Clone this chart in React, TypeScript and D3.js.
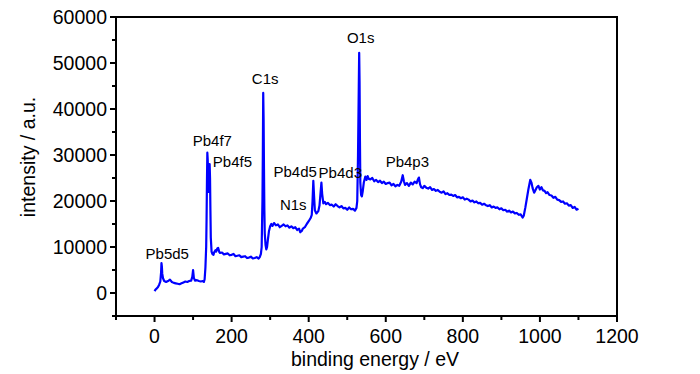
import React from "react";
import * as d3 from "d3";

// binding energy (eV) and intensity (a.u.)
const energy: number[] = [
  0, 3, 6, 9, 12, 15, 17, 18, 19, 20,
  22, 25, 30, 35, 40, 45, 50, 55, 60, 65,
  70, 75, 80, 85, 90, 95, 98, 100, 102, 105,
  110, 115, 120, 125, 128, 130, 132, 134, 135, 136,
  137, 138, 139, 140, 141, 142, 143, 144, 145, 146,
  148, 150, 153, 155, 158, 160, 163, 165, 168, 170,
  175, 180, 185, 190, 195, 200, 205, 210, 215, 220,
  225, 230, 235, 240, 245, 250, 255, 260, 265, 270,
  273, 276, 278, 280, 281, 282, 283, 284, 285, 286,
  288, 290, 292, 294, 297, 300, 303, 306, 310, 315,
  320, 325, 330, 335, 340, 345, 350, 355, 360, 365,
  370, 375, 378, 382, 385, 390, 395, 400, 405, 408,
  410, 412, 414, 416, 420, 425, 428, 431, 433, 435,
  438, 442, 445, 450, 455, 460, 465, 470, 475, 480,
  485, 490, 495, 500, 505, 510, 515, 520, 524, 526,
  528, 530, 531, 532, 533, 534, 536, 538, 540, 543,
  547, 550, 553, 556, 560, 565, 570, 575, 580, 585,
  590, 595, 600, 605, 610, 615, 620, 625, 630, 635,
  640, 644, 647, 650, 655, 660, 665, 670, 675, 680,
  683, 686, 689, 692, 696, 700, 705, 710, 715, 720,
  725, 730, 735, 740, 745, 750, 755, 760, 765, 770,
  775, 780, 785, 790, 795, 800, 805, 810, 815, 820,
  825, 830, 835, 840, 845, 850, 855, 860, 865, 870,
  875, 880, 885, 890, 895, 900, 905, 910, 915, 920,
  925, 930, 935, 940, 945, 950, 955, 958, 962, 966,
  970, 975, 978, 981, 985, 988, 992, 996, 1000, 1004,
  1008, 1012, 1016, 1020, 1025, 1030, 1035, 1040, 1045, 1050,
  1055, 1060, 1065, 1070, 1075, 1080, 1085, 1090, 1095, 1100,
];

const intensity: number[] = [
  400, 800, 1000, 1300, 1800, 2500, 4500, 6500, 5800, 4200,
  3200, 2600, 2400, 2600, 2900, 2400, 2200, 2100, 2000, 1900,
  2100, 2300, 2500, 2400, 2600, 2700, 3500, 5000, 3300, 2700,
  2800, 2600, 2500, 2600, 2400, 3000, 5500, 10000, 16000, 24000,
  30500, 29000, 25000, 22000, 24000, 27000, 28000, 25000, 18000, 12000,
  9000, 8500, 8300, 8900, 9300, 9000, 9700, 9800, 8900, 8700,
  8800, 8400, 8500, 8600, 8200, 8300, 8500, 8000, 8100, 8200,
  7800, 7900, 8000, 7600, 7700, 7900, 7500, 7600, 7800, 7500,
  7800, 8500, 10000, 20000, 30000, 43500, 38000, 27000, 18000, 13000,
  10500, 9500, 10000, 11500, 13500, 14500, 15000, 14600, 15200, 14700,
  14900, 14300, 14600, 14900, 14500, 14700, 14200, 14500, 14100, 14300,
  13700, 14000, 13200, 13500, 14000, 14300, 15000, 15600, 16300, 17000,
  20000, 24400, 21000, 18000, 17300, 17800, 19000, 22000, 24000, 21500,
  19500, 19800, 19300, 19600, 19100, 19200, 18800, 19300, 18900, 18600,
  18900, 18400, 18500, 18100, 18600, 18200, 18300, 17900, 18500, 20000,
  30000, 45000, 52200, 46000, 33000, 24000, 21300, 21000, 22000, 24000,
  25300, 24600, 25400, 24800, 24700, 25000, 24300, 24600, 24100, 24400,
  23900, 24200, 23700, 23900, 24000, 23400, 23700, 23200, 23500, 23300,
  24200, 25600, 24300, 23500, 23900, 23300, 24000, 23600, 24200, 23900,
  24600, 25100, 23600, 23000, 22800, 23300, 22900, 22700, 23000, 22400,
  22600, 22200, 22400, 22000, 21800, 22100, 21500, 21700, 21300, 21400,
  21100, 21300, 20800, 20900, 20600, 20800, 20300, 20500, 20300, 19900,
  20100, 19700, 19900, 19500, 19600, 19200, 19400, 19100, 18900, 19100,
  18600, 18800, 18500, 18600, 18200, 18400, 18000, 18100, 17700, 17900,
  17500, 17700, 17300, 17400, 17000, 17100, 16400, 16800, 18500, 20500,
  22500, 24600, 24000, 22800, 21800, 22300, 23000, 23300, 22500, 23000,
  22300, 22200, 21700, 21900, 21300, 21200, 20700, 20900, 20300, 20200,
  19800, 19900, 19400, 19500, 19000, 19100, 18500, 18700, 18100, 18300,
];

// peak annotations: label, anchor energy, anchor intensity (text baseline)
const peakLabels: string[] = ["Pb5d5", "Pb4f7", "Pb4f5", "C1s", "N1s", "Pb4d5", "Pb4d3", "O1s", "Pb4p3"];
const peakEnergies: number[] = [33, 150, 202, 287, 360, 365, 482, 535, 656];
const peakIntensities: number[] = [7500, 32000, 27500, 45500, 18000, 25300, 25000, 54300, 27500];

const xTicks: number[] = [0, 200, 400, 600, 800, 1000, 1200];
const xMinorTicks: number[] = [-100, 100, 300, 500, 700, 900, 1100];
const yTicks: number[] = [0, 10000, 20000, 30000, 40000, 50000, 60000];
const yMinorTicks: number[] = [-5000, 5000, 15000, 25000, 35000, 45000, 55000];

const xTitle = "binding energy / eV";
const yTitle = "intensity / a.u.";

const W = 700;
const H = 374;
const left = 116;
const right = 617;
const top = 17;
const bottom = 316;
const FONT = "'Liberation Sans', Arial, sans-serif";

export default function App() {
  const x = d3.scaleLinear().domain([-100, 1200]).range([left, right]);
  const y = d3.scaleLinear().domain([-5000, 60000]).range([bottom, top]);

  const points: [number, number][] = energy.map((e, i) => [e, intensity[i]]);
  const line = d3
    .line<[number, number]>()
    .x((d) => x(d[0]))
    .y((d) => y(d[1]));

  return (
    <svg
      width={W}
      height={H}
      style={{ position: "absolute", left: 0, top: 0, background: "#fff" }}
      fontFamily={FONT}
    >
      <rect x={0} y={0} width={W} height={H} fill="#fff" />
      <path d={line(points) ?? ""} fill="none" stroke="#0000ff" strokeWidth={2.2} strokeLinejoin="round" />

      {/* frame */}
      <rect x={left} y={top} width={right - left} height={bottom - top} fill="none" stroke="#000" strokeWidth={2} />

      {/* x ticks */}
      {xTicks.map((t) => (
        <g key={"xt" + t}>
          <line x1={x(t)} x2={x(t)} y1={bottom} y2={bottom + 6} stroke="#000" strokeWidth={2} />
          <text x={x(t)} y={343} textAnchor="middle" fontSize={19.5} fill="#000">
            {t}
          </text>
        </g>
      ))}
      {xMinorTicks.map((t) => (
        <line key={"xm" + t} x1={x(t)} x2={x(t)} y1={bottom} y2={bottom + 4} stroke="#000" strokeWidth={2} />
      ))}

      {/* y ticks */}
      {yTicks.map((t) => (
        <g key={"yt" + t}>
          <line x1={left - 6} x2={left} y1={y(t)} y2={y(t)} stroke="#000" strokeWidth={2} />
          <text x={left - 9} y={y(t) + 7} textAnchor="end" fontSize={19.5} fill="#000">
            {t}
          </text>
        </g>
      ))}
      {yMinorTicks.map((t) => (
        <line key={"ym" + t} x1={left - 4} x2={left} y1={y(t)} y2={y(t)} stroke="#000" strokeWidth={2} />
      ))}

      {/* peak labels */}
      {peakLabels.map((lab, i) => (
        <text
          key={lab}
          x={x(peakEnergies[i])}
          y={y(peakIntensities[i])}
          textAnchor="middle"
          fontSize={15}
          fill="#000"
        >
          {lab}
        </text>
      ))}

      {/* axis titles */}
      <text x={375} y={366} textAnchor="middle" fontSize={19.5} fill="#000">
        {xTitle}
      </text>
      <text
        transform={`translate(35,157) rotate(-90)`}
        textAnchor="middle"
        fontSize={19.5}
        fill="#000"
      >
        {yTitle}
      </text>
    </svg>
  );
}
